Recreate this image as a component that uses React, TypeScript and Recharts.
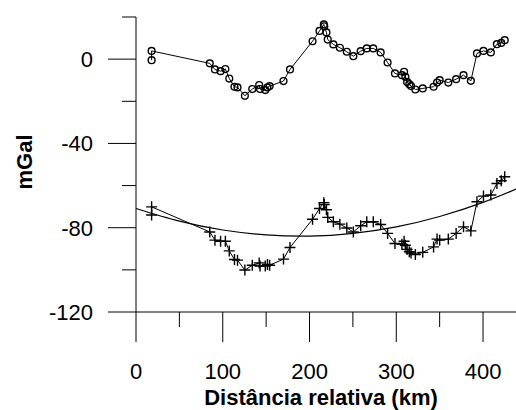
import { ComposedChart, Line, XAxis, YAxis } from 'recharts';

// station positions along the profile (km)
const stationKm = [
  18, 18, 85, 91, 97.5, 103, 107.5, 113.5, 117, 125.5, 134, 142, 143, 149, 151.5, 154,
  170, 177.5, 203.5, 211.5, 216.5, 217, 219.5, 221, 227.5, 235, 243, 250.5, 259, 266,
  273.5, 282, 290, 298.5, 306.5, 309, 310.5, 312.5, 315, 317, 322, 330.5, 343, 347, 350,
  360, 369, 377.5, 386, 393, 400.5, 409, 416, 421, 425,
];

// upper profile (circles), mGal
const upperMgal = [
  -0.5, 3.9, -2, -4.9, -5.7, -4.7, -9.2, -13.1, -13.4, -17.4, -14.2, -12.3, -14.2, -14.7, -13.4, -12.8,
  -10.4, -4.9, 8.5, 13.4, 16.5, 15.6, 12.7, 9.3, 7.0, 5.4, 3.5, 1.4, 3.8, 5.1,
  5.1, 3.2, -1.6, -6.8, -7.6, -6.0, -8.4, -10.8, -11.9, -12.8, -14.4, -13.9, -13.1, -11.1, -10,
  -11.1, -9.5, -7.6, -10.3, 2.7, 3.9, 3.2, 7.1, 7.7, 9.0,
];

// lower profile (crosses), mGal
const lowerMgal = [
  -74, -70.1, -82, -85.9, -86.4, -86.4, -91, -95.1, -95.4, -100.1, -97.8, -96.7, -98.2, -98.2, -97.4, -97.8,
  -94.9, -89.4, -76, -70.9, -68.1, -69, -71.5, -75.1, -77.2, -78.3, -80.1, -82, -79.1, -77.2,
  -77.2, -78.5, -82.7, -87.5, -87.8, -86.4, -88.3, -90.3, -91.4, -92, -92.7, -91.7, -89.1, -85.4, -85.9,
  -85.4, -82.7, -79.6, -81.5, -67.7, -65, -64.5, -59, -57.7, -55.8,
];

// regional trend
const trendKm = [0, 50, 100, 150, 200, 250, 300, 350, 400, 438];
const trendMgal = [-70.9, -76.9, -81.1, -83.4, -84, -82.7, -79.6, -74.7, -68, -61.7];

const xTicks = [0, 50, 100, 150, 200, 250, 300, 350, 400];
const xLabels = [0, 100, 200, 300, 400];
const yTicks = [20, 0, -20, -40, -60, -80, -100, -120];
const yLabels = [0, -40, -80, -120];

const rows = stationKm.map((km, i) => ({ km, upper: upperMgal[i], lower: lowerMgal[i] }));
const trendRows = trendKm.map((km, i) => ({ km, trend: trendMgal[i] }));

const FONT = '"Liberation Sans", Arial, sans-serif';

const XTick = (props: any) => {
  const { x, y, payload } = props;
  const major = xLabels.includes(payload.value);
  return (
    <g>
      <line x1={x} x2={x} y1={y} y2={y + (major ? 30 : 15)} stroke="#000" strokeWidth={1} />
      {major && (
        <text x={x} y={y + 67} textAnchor="middle" fontSize={22} fontFamily={FONT} fill="#000">
          {payload.value}
        </text>
      )}
    </g>
  );
};

const YTick = (props: any) => {
  const { x, y, payload } = props;
  const major = yLabels.includes(payload.value);
  return (
    <g>
      <line x1={x - (major ? 28 : 14)} x2={x} y1={y} y2={y} stroke="#000" strokeWidth={1} />
      {major && (
        <text x={x - 43} y={y + 8} textAnchor="end" fontSize={22} fontFamily={FONT} fill="#000">
          {payload.value}
        </text>
      )}
    </g>
  );
};

const Circle = (props: any) => {
  const { cx, cy, index } = props;
  return <circle key={index} cx={cx} cy={cy} r={3.4} fill="none" stroke="#000" strokeWidth={1.4} />;
};

const Cross = (props: any) => {
  const { cx, cy, index } = props;
  return (
    <path
      key={index}
      d={`M${cx - 5.5},${cy}H${cx + 5.5}M${cx},${cy - 5.5}V${cy + 5.5}`}
      stroke="#000"
      strokeWidth={1.4}
      fill="none"
    />
  );
};

export default function App() {
  return (
    <div style={{ position: 'absolute', left: 0, top: 0, background: '#fff' }}>
      <ComposedChart width={516} height={410} data={rows} margin={{ top: 17, right: 0, bottom: 38, left: 76 }}>
        <XAxis
          type="number"
          dataKey="km"
          domain={[0, 438]}
          ticks={xTicks}
          interval={0}
          height={60}
          tickSize={0}
          tickMargin={0}
          tickLine={false}
          axisLine={{ stroke: '#000', strokeWidth: 1 }}
          tick={<XTick />}
        />
        <YAxis
          type="number"
          domain={[-120, 20]}
          ticks={yTicks}
          interval={0}
          width={60}
          tickSize={0}
          tickMargin={0}
          tickLine={false}
          axisLine={{ stroke: '#000', strokeWidth: 1 }}
          tick={<YTick />}
        />
        <Line
          data={trendRows}
          dataKey="trend"
          type="natural"
          stroke="#000"
          strokeWidth={1.2}
          dot={false}
          isAnimationActive={false}
        />
        <Line
          dataKey="upper"
          type="linear"
          stroke="#000"
          strokeWidth={1}
          dot={<Circle />}
          isAnimationActive={false}
        />
        <Line
          dataKey="lower"
          type="linear"
          stroke="#000"
          strokeWidth={1}
          dot={<Cross />}
          isAnimationActive={false}
        />
        <text x={24} y={162} transform="rotate(-90 24 162)" textAnchor="middle" dominantBaseline="central"
          fontSize={22} fontWeight="bold" fontFamily={FONT} fill="#000">
          mGal
        </text>
        <text x={321} y={405} textAnchor="middle" fontSize={22} fontWeight="bold" fontFamily={FONT} fill="#000">
          Distância relativa (km)
        </text>
      </ComposedChart>
    </div>
  );
}
